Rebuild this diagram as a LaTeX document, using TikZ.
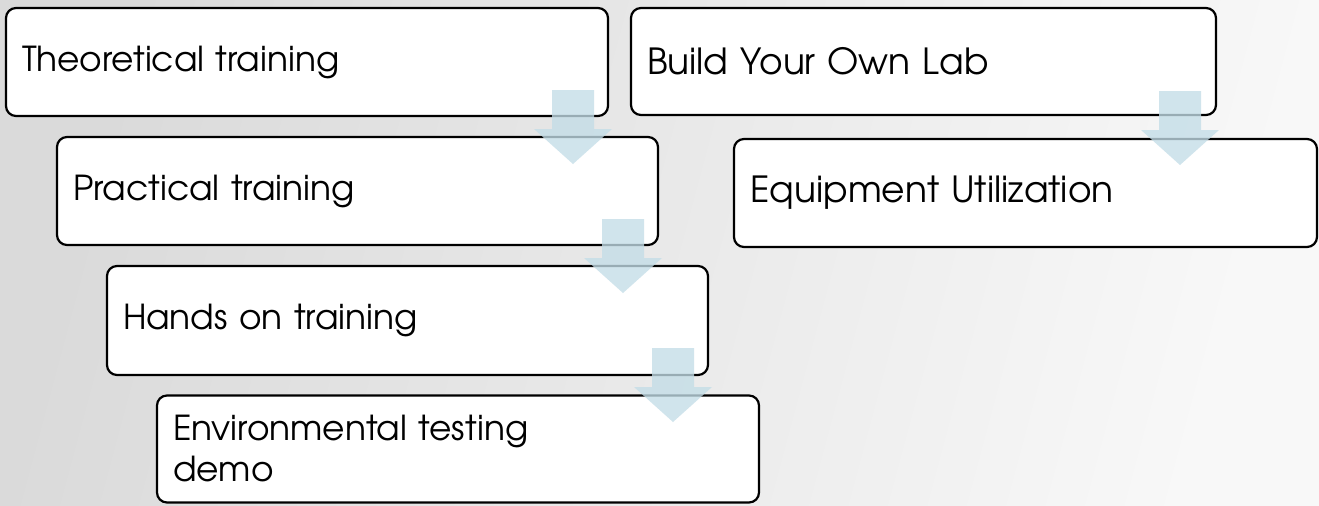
\documentclass[tikz,border=0pt]{standalone}
\usepackage{fontspec}
\setmainfont{TeX Gyre Adventor}
\definecolor{bgL}{RGB}{218,218,218}
\definecolor{bgR}{RGB}{248,248,248}
\definecolor{arrfill}{RGB}{195,221,231}
\tikzset{
  stepbox/.style={draw=black, line width=1.1pt, fill=white, rounded corners=5pt,
    inner xsep=8pt, inner ysep=0pt, align=left, font=\fontsize{17.2}{20.5}\selectfont},
  rightbox/.style={stepbox, font=\fontsize{18}{21}\selectfont},
  downarrow/.pic={\fill[arrfill, fill opacity=0.78]
    (-21,0) -- (21,0) -- (21,39) -- (39,39) -- (0,74) -- (-39,39) -- (-21,39) -- cycle;}
}
\begin{document}
\begin{tikzpicture}[x=0.5pt,y=-0.5pt]
\shade[left color=bgL, right color=bgR, shading angle=75] (0,0) rectangle (1319,505);
\useasboundingbox (0,0) rectangle (1319,505);
% boxes (widths in pt = px/2)
\node[stepbox, text width=285pt, minimum height=54pt] (b1) at (307,62) {Theoretical training};
\node[stepbox, text width=284.5pt, minimum height=54pt] (b2) at (357.5,191) {Practical training};
\node[stepbox, text width=284.5pt, minimum height=54.5pt] (b3) at (407.5,320.5) {Hands on training};
\node[stepbox, text width=285pt, minimum height=53.5pt] (b4) at (458,449) {Environmental testing\\demo};
\node[rightbox, text width=276.5pt, minimum height=53.5pt] (b5) at (923.5,61.5) {Build Your Own Lab};
\node[rightbox, text width=275.5pt, minimum height=54pt] (b6) at (1025.5,193) {Equipment Utilization};
% block arrows
\pic at (573,90) {downarrow};
\pic at (623,219) {downarrow};
\pic at (673,348) {downarrow};
\pic at (1180,91) {downarrow};
\end{tikzpicture}
\end{document}
